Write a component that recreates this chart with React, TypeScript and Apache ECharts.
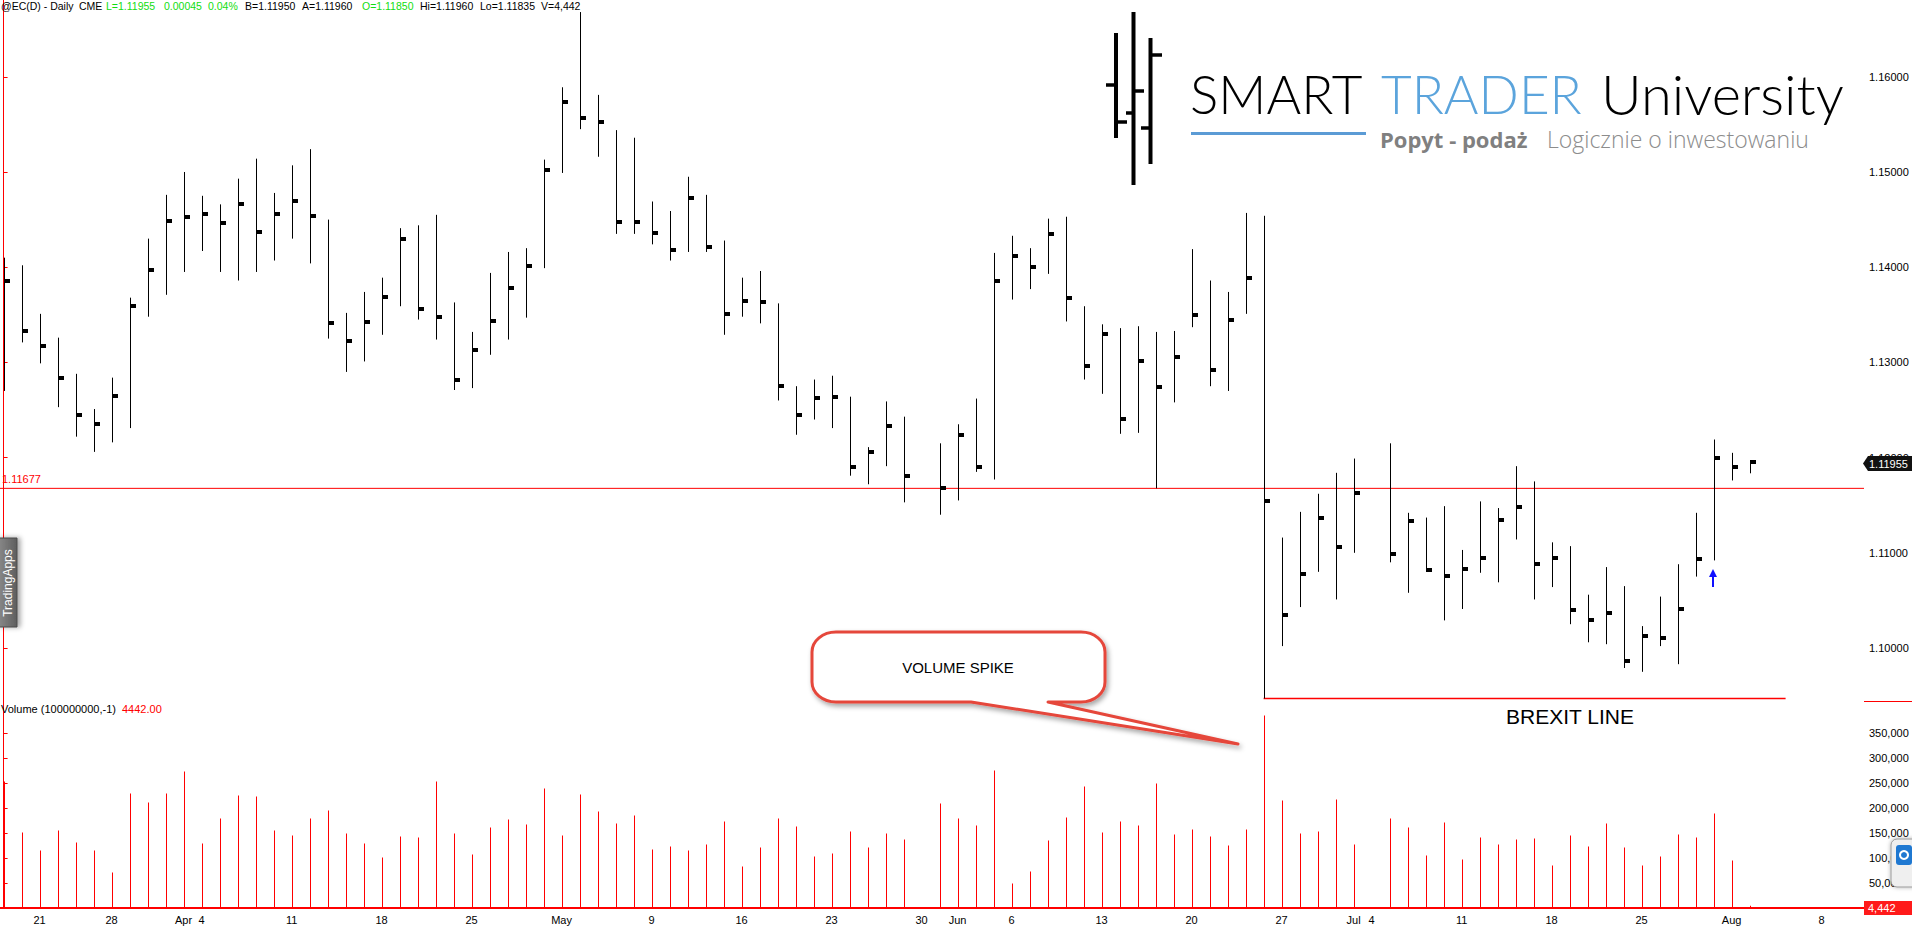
import React, { useEffect, useRef } from "react";
import * as echarts from "echarts";

// ---- categories: one slot per session (Good Friday absent; May 30 and Jul 4 are empty slots)
const dates = [
  "2016-03-17", "2016-03-18",
  "2016-03-21", "2016-03-22", "2016-03-23", "2016-03-24",
  "2016-03-28", "2016-03-29", "2016-03-30", "2016-03-31", "2016-04-01",
  "2016-04-04", "2016-04-05", "2016-04-06", "2016-04-07", "2016-04-08",
  "2016-04-11", "2016-04-12", "2016-04-13", "2016-04-14", "2016-04-15",
  "2016-04-18", "2016-04-19", "2016-04-20", "2016-04-21", "2016-04-22",
  "2016-04-25", "2016-04-26", "2016-04-27", "2016-04-28", "2016-04-29",
  "2016-05-02", "2016-05-03", "2016-05-04", "2016-05-05", "2016-05-06",
  "2016-05-09", "2016-05-10", "2016-05-11", "2016-05-12", "2016-05-13",
  "2016-05-16", "2016-05-17", "2016-05-18", "2016-05-19", "2016-05-20",
  "2016-05-23", "2016-05-24", "2016-05-25", "2016-05-26", "2016-05-27",
  "2016-05-30", "2016-05-31", "2016-06-01", "2016-06-02", "2016-06-03",
  "2016-06-06", "2016-06-07", "2016-06-08", "2016-06-09", "2016-06-10",
  "2016-06-13", "2016-06-14", "2016-06-15", "2016-06-16", "2016-06-17",
  "2016-06-20", "2016-06-21", "2016-06-22", "2016-06-23", "2016-06-24",
  "2016-06-27", "2016-06-28", "2016-06-29", "2016-06-30", "2016-07-01",
  "2016-07-04", "2016-07-05", "2016-07-06", "2016-07-07", "2016-07-08",
  "2016-07-11", "2016-07-12", "2016-07-13", "2016-07-14", "2016-07-15",
  "2016-07-18", "2016-07-19", "2016-07-20", "2016-07-21", "2016-07-22",
  "2016-07-25", "2016-07-26", "2016-07-27", "2016-07-28", "2016-07-29",
  "2016-08-01", "2016-08-02", "2016-08-03", "2016-08-04", "2016-08-05",
  "2016-08-08", "2016-08-09", "2016-08-10",
];

const high = [
  1.1410, 1.1402, 1.1351, 1.1326, 1.1288, 1.1251, 1.1284, 1.1368, 1.1430, 1.1476,
  1.1500, 1.1475, 1.1466, 1.1493, 1.1514, 1.1478, 1.1507, 1.1524, 1.1450, 1.1352,
  1.1374, 1.1389, 1.1441, 1.1444, 1.1455, 1.1363, 1.1332, 1.1394, 1.1416, 1.1420,
  1.1513, 1.1589, 1.1668, 1.1581, 1.1544, 1.1536, 1.1469, 1.1459, 1.1495, 1.1476,
  1.1428, 1.1389, 1.1396, 1.1362, 1.1275, 1.1282, 1.1286, 1.1264, 1.1211, 1.1259,
  1.1243, null, 1.1215, 1.1235, 1.1262, 1.1415, 1.1433, 1.1420, 1.1451, 1.1453,
  1.1359, 1.1340, 1.1336, 1.1338, 1.1332, 1.1333, 1.1419, 1.1386, 1.1374, 1.1457,
  1.1454, 1.1116, 1.1143, 1.1162, 1.1184, 1.1199, null, 1.1215, 1.1142, 1.1137,
  1.1149, 1.1103, 1.1154, 1.1147, 1.1191, 1.1175, 1.1111, 1.1107, 1.1056, 1.1085,
  1.1065, 1.1023, 1.1054, 1.1088, 1.1142, 1.1219, 1.1205, 1.1196,
];

const low = [
  1.1270, 1.1321, 1.1299, 1.1253, 1.1222, 1.1206, 1.1216, 1.1231, 1.1348, 1.1371,
  1.1395, 1.1417, 1.1395, 1.1386, 1.1395, 1.1407, 1.1430, 1.1404, 1.1325, 1.1290,
  1.1301, 1.1329, 1.1359, 1.1345, 1.1324, 1.1271, 1.1273, 1.1308, 1.1324, 1.1347,
  1.1399, 1.1499, 1.1545, 1.1516, 1.1435, 1.1435, 1.1424, 1.1407, 1.1416, 1.1416,
  1.1329, 1.1348, 1.1341, 1.1260, 1.1224, 1.1240, 1.1231, 1.1181, 1.1172, 1.1191,
  1.1153, null, 1.1140, 1.1155, 1.1185, 1.1177, 1.1366, 1.1377, 1.1393, 1.1343,
  1.1282, 1.1267, 1.1225, 1.1226, 1.11677, 1.1258, 1.1337, 1.1275, 1.1270, 1.1351,
  1.0947, 1.1002, 1.1043, 1.1080, 1.1051, 1.1100, null, 1.1090, 1.1058, 1.1080,
  1.1029, 1.1041, 1.1079, 1.1069, 1.1114, 1.1051, 1.1064, 1.1025, 1.1006, 1.1004,
  1.0979, 1.0975, 1.1002, 1.0983, 1.1075, 1.1092, 1.1176, 1.11835,
];

const close = [
  1.1385, 1.1333, 1.1317, 1.1284, 1.1245, 1.1235, 1.1265, 1.1359, 1.1397, 1.1449,
  1.1453, 1.1456, 1.1446, 1.1466, 1.1437, 1.1456, 1.1470, 1.1454, 1.1341, 1.1323,
  1.1342, 1.1369, 1.1430, 1.1356, 1.1348, 1.1282, 1.1313, 1.1343, 1.1378, 1.1401,
  1.1502, 1.1574, 1.1557, 1.1552, 1.1448, 1.1447, 1.1436, 1.1418, 1.1473, 1.1421,
  1.1351, 1.1364, 1.1363, 1.1275, 1.1245, 1.1263, 1.1264, 1.1190, 1.1206, 1.1233,
  1.1181, null, 1.1168, 1.1224, 1.1190, 1.1385, 1.1412, 1.1400, 1.1435, 1.1368,
  1.1296, 1.1330, 1.1241, 1.1301, 1.1274, 1.1306, 1.1350, 1.1292, 1.1345, 1.1389,
  1.1154, 1.1035, 1.1078, 1.1137, 1.1106, 1.1163, null, 1.1099, 1.1133, 1.1082,
  1.1076, 1.1083, 1.1095, 1.1134, 1.1148, 1.1088, 1.1095, 1.1040, 1.1029, 1.1037,
  1.0986, 1.1013, 1.1010, 1.1041, 1.1094, 1.1200, 1.1190, 1.11955,
];

const volume = [
  253000, 151000, 115000, 155000, 131000, 115000, 71000, 229000, 211000, 229000,
  273000, 129000, 179000, 225000, 223000, 155000, 145000, 179000, 195000, 149000,
  129000, 101000, 143000, 141000, 253000, 149000, 107000, 161000, 177000, 167000,
  239000, 145000, 227000, 193000, 169000, 185000, 117000, 123000, 115000, 127000,
  173000, 83000, 121000, 179000, 163000, 103000, 109000, 153000, 121000, 149000,
  137000, null, 209000, 179000, 165000, 275000, 49000, 73000, 135000, 181000,
  243000, 151000, 173000, 165000, 249000, 147000, 157000, 143000, 125000, 157000,
  385000, 215000, 149000, 153000, 217000, 127000, null, 179000, 161000, 105000,
  171000, 97000, 141000, 127000, 137000, 139000, 85000, 145000, 123000, 169000,
  121000, 85000, 103000, 147000, 141000, 189000, 95000, 4442,
];

const priceTicks = [1.1, 1.11, 1.12, 1.13, 1.14, 1.15, 1.16];
const volumeTicks = [50000, 100000, 150000, 200000, 250000, 300000, 350000];
const supportLevel = 1.11677;
const brexitLevel = 1.0947;
const brexitStart = 70;
const brexitEnd = 99;
const lastPrice = 1.11955;
const lastVolume = 4442;
const MONTHS = ["Jan", "Feb", "Mar", "Apr", "May", "Jun", "Jul", "Aug", "Sep", "Oct", "Nov", "Dec"];

function buildDateTicks(): Map<number, string> {
  const m = new Map<number, string>();
  dates.forEach((d, i) => {
    const [y, mo, day] = d.split("-").map(Number);
    const prevMo = i > 0 ? Number(dates[i - 1].split("-")[1]) : mo;
    const dow = new Date(Date.UTC(y, mo - 1, day)).getUTCDay();
    if (i > 0 && prevMo !== mo) m.set(i, MONTHS[mo - 1]);
    else if (dow === 1) m.set(i, String(day));
  });
  return m;
}

const CALLOUT_D =
  "M836 632 L1081 632 C1094.3 632 1105 640.9 1105 652 L1105 682 C1105 693.1 1094.3 702 1081 702 " +
  "L1048 702 L1238 744 L971 702 L836 702 C822.7 702 812 693.1 812 682 L812 652 C812 640.9 822.7 632 836 632 Z";

const FONT = '"Liberation Sans", Arial, sans-serif';

export default function App() {
  const ref = useRef<HTMLDivElement>(null);

  useEffect(() => {
    if (!ref.current) return;
    echarts.graphic.registerShape("callout", echarts.graphic.extendPath(CALLOUT_D, {}));
    const chart = echarts.init(ref.current, null, { renderer: "svg" });

    const slotW = 18;
    const xMin = -0.2;
    const xMax = 1864 / slotW + xMin;
    const tickMap = buildDateTicks();
    const tickSlots = Array.from(tickMap.keys());

    const priceData: number[][] = [];
    high.forEach((h, i) => {
      if (h != null && low[i] != null && close[i] != null) priceData.push([i, h, low[i] as number, close[i] as number]);
    });
    const volData: number[][] = [];
    volume.forEach((v, i) => {
      if (v != null) volData.push([i, v]);
    });

    const txt = (text: string, x: number, y: number, fill: string, extra: any = {}) => ({
      type: "text",
      x,
      y,
      z: 20,
      silent: true,
      style: {
        text,
        fill,
        fontSize: 11,
        fontFamily: FONT,
        textAlign: "left",
        textVerticalAlign: "middle",
        ...extra,
      },
    });
    const hdr = (text: string, x: number, fill: string) => txt(text, x, 6, fill, { fontSize: 10.5 });

    const logoBar = (x: number, y1: number, y2: number, oy: number, ox: number, cy: number, cx: number) => [
      { type: "line", z: 20, shape: { x1: x, y1, x2: x, y2 }, style: { stroke: "#000", lineWidth: 4 } },
      { type: "line", z: 20, shape: { x1: ox, y1: oy, x2: x, y2: oy }, style: { stroke: "#000", lineWidth: 3.5 } },
      { type: "line", z: 20, shape: { x1: x, y1: cy, x2: cx, y2: cy }, style: { stroke: "#000", lineWidth: 3.5 } },
    ];

    const logoFont = { fontSize: 53, fontFamily: "Lato, sans-serif", fontWeight: 300 };

    const option: any = {
      animation: false,
      backgroundColor: "#ffffff",
      grid: [
        { left: 0, top: 0, width: 1864, height: 700 },
        { left: 0, top: 700, width: 1864, height: 208 },
      ],
      xAxis: [
        { gridIndex: 0, type: "value", min: xMin, max: xMax, show: false },
        {
          gridIndex: 1,
          type: "value",
          min: xMin,
          max: xMax,
          axisLine: { show: true, lineStyle: { color: "#ff0000", width: 2 } },
          axisTick: { show: false },
          splitLine: { show: false },
          axisLabel: {
            customValues: tickSlots,
            formatter: (v: number) => tickMap.get(Math.round(v)) || "",
            color: "#000",
            fontSize: 11,
            fontFamily: FONT,
            margin: 6,
          },
        },
      ],
      yAxis: [
        {
          gridIndex: 0,
          type: "value",
          position: "right",
          min: 1.094538,
          max: 1.168067,
          axisLine: { show: true, lineStyle: { color: "#ff0000", width: 1 } },
          axisTick: { show: true, length: 4, lineStyle: { color: "#ff0000" }, customValues: priceTicks },
          splitLine: { show: false },
          axisLabel: {
            customValues: priceTicks,
            formatter: (v: number) => v.toFixed(5),
            color: "#000",
            fontSize: 11,
            fontFamily: FONT,
            margin: 5,
          },
        },
        {
          gridIndex: 1,
          type: "value",
          position: "right",
          min: 0,
          max: 416000,
          axisLine: { show: true, lineStyle: { color: "#ff0000", width: 1 } },
          axisTick: { show: true, length: 4, lineStyle: { color: "#ff0000" }, customValues: volumeTicks },
          splitLine: { show: false },
          axisLabel: {
            customValues: volumeTicks,
            formatter: (v: number) => v.toLocaleString("en-US"),
            color: "#000",
            fontSize: 11,
            fontFamily: FONT,
            margin: 5,
          },
        },
      ],
      series: [
        {
          type: "custom",
          name: "EC",
          xAxisIndex: 0,
          yAxisIndex: 0,
          z: 5,
          silent: true,
          clip: false,
          encode: { x: 0, y: [1, 2, 3] },
          data: priceData,
          renderItem: (_p: any, api: any) => {
            const s = api.value(0);
            const t = api.coord([s, api.value(1)]);
            const b = api.coord([s, api.value(2)]);
            const c = api.coord([s, api.value(3)]);
            const x = Math.round(t[0]) + 0.5;
            return {
              type: "group",
              children: [
                { type: "line", shape: { x1: x, y1: t[1], x2: x, y2: b[1] }, style: { stroke: "#000", lineWidth: 1 } },
                { type: "rect", shape: { x: x - 0.5, y: Math.round(c[1]) - 2, width: 6, height: 4 }, style: { fill: "#000" } },
              ],
            };
          },
        },
        {
          type: "line",
          name: "Support",
          xAxisIndex: 0,
          yAxisIndex: 0,
          z: 4,
          silent: true,
          symbol: "none",
          lineStyle: { color: "#ff0000", width: 1 },
          data: [
            [xMin, supportLevel],
            [xMax, supportLevel],
          ],
        },
        {
          type: "line",
          name: "Brexit",
          xAxisIndex: 0,
          yAxisIndex: 0,
          z: 4,
          silent: true,
          symbol: "none",
          lineStyle: { color: "#ff0000", width: 1.5 },
          data: [
            [brexitStart, brexitLevel],
            [brexitEnd, brexitLevel],
          ],
        },
        {
          type: "custom",
          name: "Volume",
          xAxisIndex: 1,
          yAxisIndex: 1,
          z: 5,
          silent: true,
          data: volData,
          encode: { x: 0, y: 1 },
          renderItem: (_p: any, api: any) => {
            const p = api.coord([api.value(0), api.value(1)]);
            const b = api.coord([api.value(0), 0]);
            const x = Math.round(p[0]);
            return {
              type: "rect",
              shape: { x, y: p[1], width: 1, height: Math.max(1, b[1] - p[1]) },
              style: { fill: "#ff0000" },
            };
          },
        },
      ],
      graphic: {
        elements: [
          // header
          hdr("@EC(D) - Daily", 1, "#000"),
          hdr("CME", 79, "#000"),
          hdr("L=1.11955", 106, "#11dd11"),
          hdr("0.00045", 164, "#11dd11"),
          hdr("0.04%", 208, "#11dd11"),
          hdr("B=1.11950", 245, "#000"),
          hdr("A=1.11960", 302, "#000"),
          hdr("O=1.11850", 362, "#11dd11"),
          hdr("Hi=1.11960", 420, "#000"),
          hdr("Lo=1.11835", 480, "#000"),
          hdr("V=4,442", 541, "#000"),

          // support level label
          txt(supportLevel.toFixed(5), 2, 479, "#ff0000"),

          // logo
          ...logoBar(1116, 33, 138, 85, 1106, 122, 1127),
          ...logoBar(1133.5, 12, 185, 113, 1126, 91, 1144),
          ...logoBar(1150.5, 38, 164, 128, 1141, 55, 1162),
          txt("SMART", 1190, 93, "#000", logoFont),
          txt("TRADER", 1381, 93, "#5ba4dc", logoFont),
          txt("University", 1601, 93, "#000", { ...logoFont, fontSize: 56 }),
          { type: "rect", z: 20, shape: { x: 1191, y: 132, width: 175, height: 3 }, style: { fill: "#5b9bd5" } },
          txt("Popyt - podaż", 1380, 139, "#808080", { fontSize: 22, fontFamily: '"Open Sans", sans-serif', fontWeight: "bold" }),
          txt("Logicznie o inwestowaniu", 1547, 139, "#8c8c8c", { fontSize: 23, fontFamily: '"Open Sans", sans-serif', fontWeight: 300 }),

          // TradingApps tab
          {
            type: "rect",
            z: 20,
            shape: { x: -2, y: 538, width: 19, height: 89 },
            style: {
              fill: new echarts.graphic.LinearGradient(0, 0, 1, 0, [
                { offset: 0, color: "#8a8a8a" },
                { offset: 1, color: "#5e5e5e" },
              ]),
              stroke: "#4a4a4a",
              lineWidth: 1,
              shadowBlur: 5,
              shadowOffsetX: 3,
              shadowColor: "rgba(0,0,0,0.35)",
            },
          },
          {
            type: "text",
            z: 21,
            x: 8,
            y: 583,
            rotation: Math.PI / 2,
            style: { text: "TradingApps", fill: "#fff", fontSize: 12, fontFamily: FONT, textAlign: "center", textVerticalAlign: "middle" },
          },

          // volume panel title
          txt("Volume (100000000,-1)", 1, 709, "#000"),
          txt(lastVolume.toFixed(2), 122, 709, "#ff0000"),

          // callout
          {
            type: "callout",
            z: 15,
            x: 0,
            y: 0,
            style: {
              fill: "#fff",
              stroke: "#e5463b",
              lineWidth: 3,
              lineJoin: "round",
              shadowBlur: 5,
              shadowOffsetX: 2,
              shadowOffsetY: 3,
              shadowColor: "rgba(0,0,0,0.35)",
            },
          },
          txt("VOLUME SPIKE", 958, 667, "#000", {
            fontSize: 15,
            fontFamily: '"Liberation Sans Narrow", "Liberation Sans", sans-serif',
            textAlign: "center",
          }),

          // Brexit label
          txt("BREXIT LINE", 1570, 716, "#000", {
            fontSize: 21,
            fontFamily: '"Liberation Sans Narrow", "Liberation Sans", sans-serif',
            textAlign: "center",
          }),

          // blue arrow
          { type: "line", z: 20, shape: { x1: 1713, y1: 587, x2: 1713, y2: 574 }, style: { stroke: "#1010ff", lineWidth: 2 } },
          { type: "polygon", z: 20, shape: { points: [[1709, 577], [1713, 569], [1717, 577]] }, style: { fill: "#1010ff" } },

          // panel separator right of the axis
          { type: "line", z: 6, shape: { x1: 1864, y1: 701.5, x2: 1912, y2: 701.5 }, style: { stroke: "#ff0000", lineWidth: 1 } },

          // last price marker
          {
            type: "polygon",
            z: 20,
            shape: { points: [[1863, 463.5], [1868, 456], [1912, 456], [1912, 471], [1868, 471]] },
            style: { fill: "#111" },
          },
          txt(lastPrice.toFixed(5), 1869, 463.5, "#fff"),

          // last volume marker
          { type: "rect", z: 20, shape: { x: 1864, y: 901, width: 48, height: 14 }, style: { fill: "#ff1a1a" } },
          txt(lastVolume.toLocaleString("en-US"), 1868, 908, "#fff"),

          // remote-support widget at the edge
          {
            type: "rect",
            z: 22,
            shape: { x: 1891, y: 839, width: 30, height: 48, r: 6 },
            style: { fill: "#efefef", stroke: "#9a9a9a", lineWidth: 1, shadowBlur: 4, shadowColor: "rgba(0,0,0,0.3)" },
          },
          { type: "rect", z: 23, shape: { x: 1896, y: 845, width: 16, height: 20, r: 3 }, style: { fill: "#1f78d1" } },
          { type: "circle", z: 24, shape: { cx: 1904, cy: 855, r: 5 }, style: { fill: "#fff" } },
          { type: "circle", z: 25, shape: { cx: 1904, cy: 855, r: 3 }, style: { fill: "#1f78d1" } },
        ],
      },
    };

    chart.setOption(option);
    return () => chart.dispose();
  }, []);

  return (
    <div
      ref={ref}
      style={{ position: "fixed", left: 0, top: 0, width: 1912, height: 926, background: "#fff" }}
    />
  );
}
